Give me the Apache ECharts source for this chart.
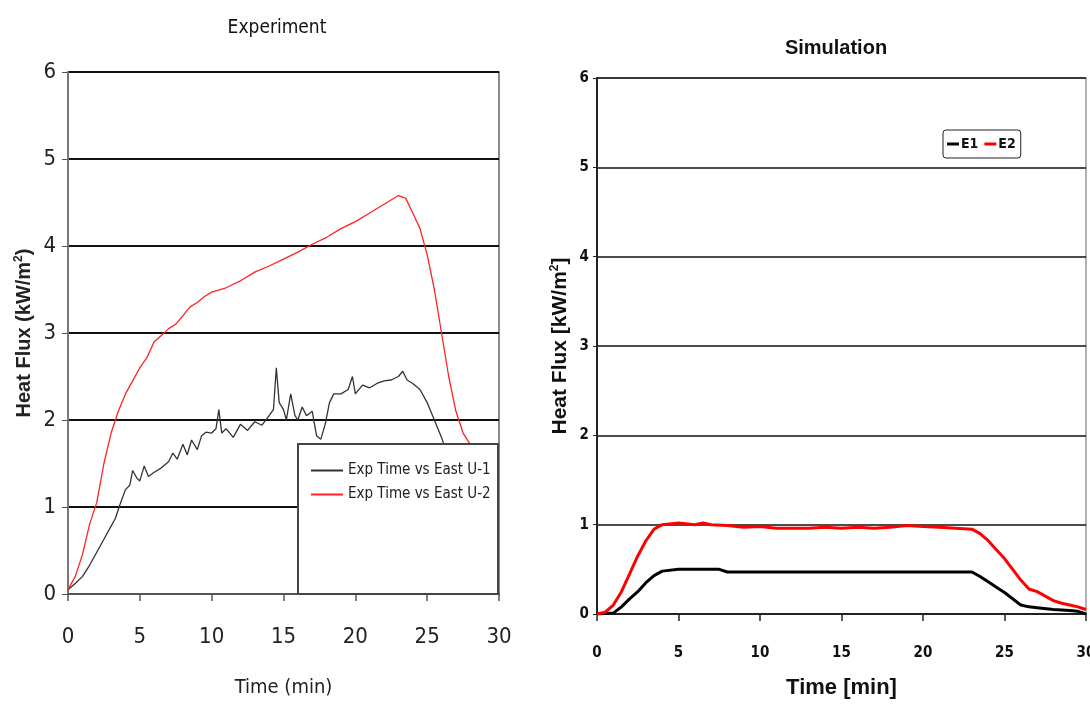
<!DOCTYPE html>
<html>
<head>
<meta charset="utf-8">
<script src="https://cdn.jsdelivr.net/npm/echarts@6/dist/echarts.min.js"></script>
<style>
html,body{margin:0;padding:0;background:#fff;}
#chart{width:1090px;height:704px;}
</style>
</head>
<body>
<div id="chart"></div>
<script>
// ---- Experiment data (time in min, heat flux kW/m2) ----
const expU1 = [
 [0,0.05],[0.5,0.12],[1,0.2],[1.5,0.33],[2,0.48],[2.5,0.63],[3,0.78],[3.3,0.87],[3.6,1.02],[4,1.2],[4.3,1.25],[4.5,1.42],
 [4.8,1.33],[5,1.3],[5.3,1.47],[5.6,1.35],[6,1.4],[6.5,1.45],[7,1.52],[7.3,1.62],[7.6,1.55],[8,1.72],[8.3,1.6],[8.6,1.77],
 [9,1.66],[9.3,1.82],[9.6,1.86],[10,1.85],[10.3,1.9],[10.5,2.12],[10.7,1.85],[11,1.9],[11.5,1.8],[12,1.95],[12.5,1.88],
 [13,1.98],[13.5,1.94],[14,2.05],[14.3,2.12],[14.5,2.6],[14.7,2.2],[15,2.12],[15.2,2.0],[15.5,2.3],[15.8,2.05],[16,2.0],
 [16.3,2.15],[16.6,2.05],[17,2.1],[17.3,1.82],[17.6,1.78],[17.9,1.95],[18.2,2.2],[18.5,2.3],[19,2.3],[19.5,2.35],[19.8,2.5],
 [20,2.3],[20.5,2.4],[21,2.37],[21.5,2.42],[22,2.45],[22.5,2.46],[23,2.5],[23.3,2.56],[23.6,2.46],[24,2.42],[24.5,2.35],
 [25,2.2],[25.5,2.0],[26,1.8],[26.4,1.6],[27,1.4],[28,1.2]
];
const expU2 = [
 [0,0.05],[0.5,0.2],[1,0.45],[1.5,0.8],[2,1.05],[2.5,1.5],[3,1.85],[3.5,2.1],[4,2.3],[4.5,2.45],[5,2.6],[5.5,2.72],
 [6,2.9],[6.5,2.97],[7,3.05],[7.5,3.1],[8,3.2],[8.5,3.3],[9,3.35],[9.5,3.42],[10,3.47],[11,3.52],[12,3.6],[13,3.7],
 [14,3.77],[15,3.85],[16,3.93],[17,4.02],[18,4.1],[19,4.2],[20,4.28],[21,4.38],[22,4.48],[23,4.58],[23.5,4.55],[24,4.38],
 [24.5,4.2],[25,3.9],[25.5,3.5],[26,3.0],[26.5,2.5],[27,2.1],[27.5,1.85],[28,1.72],[28.5,1.6],[29,1.5],[30,1.4]
];
// ---- Simulation data ----
const simE1 = [
 [0,0],[1,0.01],[1.5,0.08],[2,0.17],[2.5,0.25],[3,0.35],[3.5,0.43],[4,0.48],[5,0.5],[7.5,0.5],[8,0.47],[23,0.47],
 [23.5,0.42],[24,0.36],[24.5,0.3],[25,0.24],[25.5,0.17],[26,0.1],[26.5,0.08],[27,0.07],[28,0.05],[29,0.04],[29.5,0.03],[30,0]
];
const simE2 = [
 [0,0],[0.5,0.02],[1,0.1],[1.5,0.25],[2,0.45],[2.5,0.65],[3,0.82],[3.5,0.95],[4,1.0],[5,1.02],[6,1.0],[6.5,1.02],[7,1.0],
 [8,0.99],[9,0.97],[10,0.98],[11,0.96],[12,0.96],[13,0.96],[14,0.97],[15,0.96],[16,0.97],[17,0.96],[18,0.97],[19,0.99],
 [20,0.98],[21,0.97],[22,0.96],[23,0.95],[23.5,0.9],[24,0.82],[24.5,0.72],[25,0.62],[25.5,0.5],[26,0.38],[26.5,0.28],
 [27,0.25],[27.5,0.2],[28,0.15],[28.5,0.12],[29,0.1],[29.5,0.08],[30,0.05]
];
const expNames = ['Exp Time vs East U-1','Exp Time vs East U-2'];
const simNames = ['E1','E2'];

const narrow = '"Liberation Sans Narrow","DejaVu Sans Condensed","Arial Narrow",sans-serif';
const chart = echarts.init(document.getElementById('chart'));
chart.setOption({
  backgroundColor:'#fff',
  animation:false,
  title:[
    {text:'Experiment',left:272,top:14,textAlign:'center',textStyle:{fontFamily:narrow,fontWeight:'normal',fontSize:19,color:'#111'}},
    {text:'Simulation',left:831,top:33,textAlign:'center',textStyle:{fontFamily:'Arial,"Liberation Sans",sans-serif',fontWeight:'bold',fontSize:20,color:'#111'}}
  ],
  grid:[
    {left:68,top:72,width:431,height:522,show:true,borderColor:'#666',borderWidth:1.5,backgroundColor:'transparent',outerBoundsMode:'none',containLabel:false},
    {left:597,top:78,width:489,height:536,show:true,borderColor:'#999',borderWidth:1.5,backgroundColor:'transparent',outerBoundsMode:'none',containLabel:false}
  ],
  xAxis:[
    {gridIndex:0,type:'value',min:0,max:30,interval:5,
     name:'Time (min)',nameLocation:'middle',nameGap:84,
     nameTextStyle:{fontFamily:narrow,fontSize:20,color:'#222'},
     axisLine:{lineStyle:{color:'#555',width:2}},axisTick:{length:7,lineStyle:{color:'#555',width:1.5}},
     axisLabel:{fontFamily:narrow,fontSize:22,color:'#222',margin:32},splitLine:{show:false}},
    {gridIndex:1,type:'value',min:0,max:30,interval:5,
     name:'Time [min]',nameLocation:'middle',nameGap:63,
     nameTextStyle:{fontFamily:'Arial,"Liberation Sans",sans-serif',fontWeight:'bold',fontSize:22,color:'#111'},
     axisLine:{lineStyle:{color:'#222',width:2}},axisTick:{length:7,lineStyle:{color:'#222',width:1.5}},
     axisLabel:{fontFamily:narrow,fontWeight:'bold',fontSize:15,color:'#111',margin:32},splitLine:{show:false}}
  ],
  yAxis:[
    {gridIndex:0,type:'value',min:0,max:6,interval:1,
     name:'{a|Heat Flux (kW/m}{s|2}{a|)}',nameLocation:'middle',nameGap:33,
     nameTextStyle:{rich:{a:{fontFamily:'Arial,"Liberation Sans",sans-serif',fontWeight:'bold',fontSize:20,color:'#222'},
                           s:{fontFamily:'Arial,"Liberation Sans",sans-serif',fontWeight:'bold',fontSize:12,color:'#222',verticalAlign:'top',padding:[0,0,10,0]}}},
     axisLine:{show:true,lineStyle:{color:'#777',width:2}},axisTick:{show:true,length:6,lineStyle:{color:'#555'}},
     axisLabel:{fontFamily:narrow,fontSize:22,color:'#222',margin:12},
     splitLine:{lineStyle:{color:'#111',width:2}}},
    {gridIndex:1,type:'value',min:0,max:6,interval:1,
     name:'{a|Heat Flux [kW/m}{s|2}{a|]}',nameLocation:'middle',nameGap:26,
     nameTextStyle:{rich:{a:{fontFamily:'Arial,"Liberation Sans",sans-serif',fontWeight:'bold',fontSize:21,color:'#111'},
                           s:{fontFamily:'Arial,"Liberation Sans",sans-serif',fontWeight:'bold',fontSize:12,color:'#111',verticalAlign:'top',padding:[0,0,10,0]}}},
     axisLine:{show:true,lineStyle:{color:'#222',width:2}},axisTick:{show:true,length:4,lineStyle:{color:'#222'}},
     axisLabel:{fontFamily:narrow,fontWeight:'bold',fontSize:15,color:'#111',margin:8},
     splitLine:{lineStyle:{color:'#111',width:1.5}}}
  ],
  legend:[
    {data:expNames,orient:'vertical',left:306,top:458,itemGap:9,itemWidth:32,itemHeight:2,icon:'rect',z:10,
     textStyle:{fontFamily:narrow,fontSize:15,color:'#222'}},
    {data:simNames,orient:'horizontal',left:943,top:130,itemGap:6,itemWidth:12,itemHeight:3,icon:'rect',
     padding:[7,5,7,4],borderColor:'#222',borderWidth:1,borderRadius:3,backgroundColor:'#fff',
     textStyle:{fontFamily:narrow,fontWeight:'bold',fontSize:14,color:'#111',padding:[0,0,0,-3]}}
  ],
  graphic:[
    {type:'rect',z:8,shape:{x:298,y:444,width:200,height:150},style:{fill:'#fff',stroke:'#444',lineWidth:2}}
  ],
  series:[
    {name:expNames[0],type:'line',xAxisIndex:0,yAxisIndex:0,data:expU1,showSymbol:false,symbol:'none',
     lineStyle:{color:'#333',width:1.3},itemStyle:{color:'#333'}},
    {name:expNames[1],type:'line',xAxisIndex:0,yAxisIndex:0,data:expU2,showSymbol:false,symbol:'none',
     lineStyle:{color:'#f22',width:1.3},itemStyle:{color:'#f22'}},
    {name:simNames[0],type:'line',xAxisIndex:1,yAxisIndex:1,data:simE1,showSymbol:false,symbol:'none',
     lineStyle:{color:'#000',width:3},itemStyle:{color:'#000'}},
    {name:simNames[1],type:'line',xAxisIndex:1,yAxisIndex:1,data:simE2,showSymbol:false,symbol:'none',
     lineStyle:{color:'#f00',width:3},itemStyle:{color:'#f00'}}
  ]
});
</script>
</body>
</html>
